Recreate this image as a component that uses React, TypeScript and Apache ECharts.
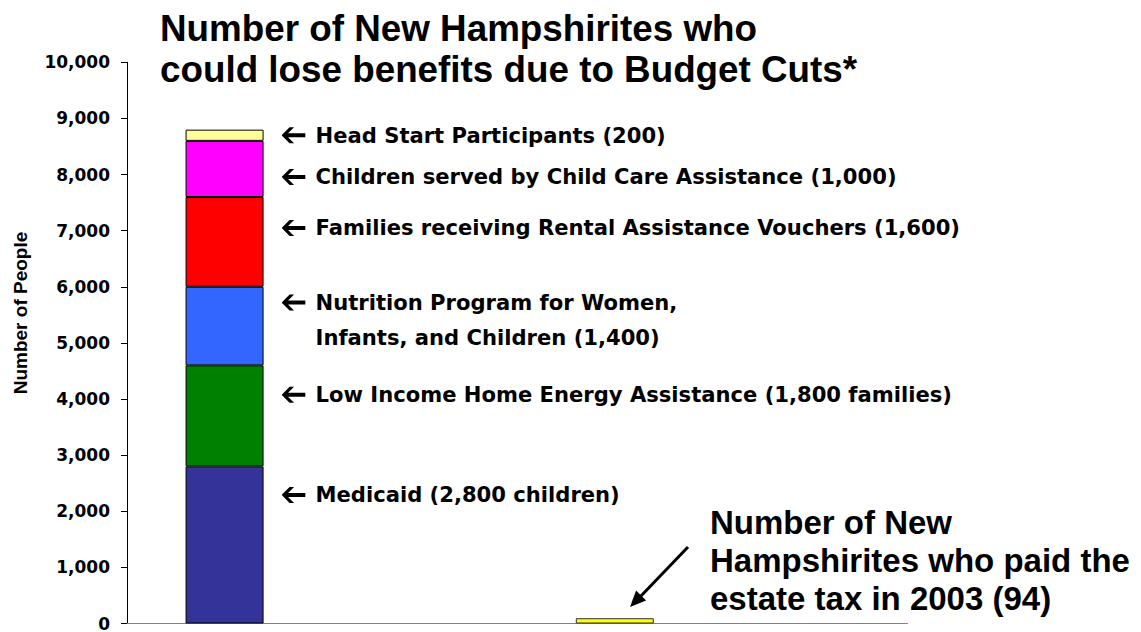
import React, { useEffect, useRef } from "react";
import * as echarts from "echarts";

const categories = ["Budget cuts", "", "Estate tax", ""];
const programNames = [
  "Medicaid",
  "Low Income Home Energy Assistance",
  "Nutrition Program for Women, Infants, and Children",
  "Rental Assistance Vouchers",
  "Child Care Assistance",
  "Head Start",
];
const programValues = [2800, 1800, 1400, 1600, 1000, 200];
const programColors = ["#333399", "#008000", "#3366FF", "#FF0000", "#FF00FF", "#FFFF99"];
const programLabels = [
  ["Medicaid (2,800 children)"],
  ["Low Income Home Energy Assistance (1,800 families)"],
  ["Nutrition Program for Women,", "Infants, and Children (1,400)"],
  ["Families receiving Rental Assistance Vouchers (1,600)"],
  ["Children served by Child Care Assistance (1,000)"],
  ["Head Start Participants (200)"],
];
const labelOffsets = [-50, -21, -6, -14, 8, 0];
const estateTaxPayers = 94;
const estateTaxLabel = ["Number of New", "Hampshirites who paid the", "estate tax in 2003 (94)"];
const yTicks = { min: 0, max: 10000, interval: 1000 };
const titleLines = ["Number of New Hampshirites who", "could lose benefits due to Budget Cuts*"];

const FONT = "'Liberation Sans', Arial, sans-serif";
const WIDE = "'DejaVu Sans', sans-serif";

const arrowSvg =
  "data:image/svg+xml;charset=utf-8," +
  encodeURIComponent(
    '<svg xmlns="http://www.w3.org/2000/svg" width="24" height="18" viewBox="0 0 24 18">' +
      '<polygon points="0,9 8,1 12.5,1 6.5,7 24,7 24,11 6.5,11 12.5,17 8,17" fill="#000"/></svg>'
  );

export default function App() {
  const ref = useRef<HTMLDivElement>(null);
  useEffect(() => {
    if (!ref.current) return;
    const chart = echarts.init(ref.current, null, { renderer: "svg" });
    const programSeries = programValues.map((v, i) => ({
      name: programNames[i],
      type: "bar",
      stack: "total",
      barWidth: 78,
      data: categories.map((_, ci) => (ci === 0 ? v : "-")),
      itemStyle: { color: programColors[i], borderColor: "#000", borderWidth: 1 },
      label: {
        show: true,
        position: "right",
        distance: 18,
        offset: [0, labelOffsets[i]],
        formatter: () =>
          programLabels[i]
            .map((line, li) => (li === 0 ? "{a|}{g|}" : "{sp|}") + "{t|" + line + "}")
            .join("\n"),
        rich: {
          a: { width: 24, height: 18, backgroundColor: { image: arrowSvg } },
          g: { width: 10, lineHeight: 35 },
          sp: { width: 34, lineHeight: 35 },
          t: { fontFamily: WIDE, fontWeight: "bold", fontSize: 21.1, color: "#000", lineHeight: 35 },
        },
      },
    }));
    const estateSeries = {
      name: "Estate tax payers",
      type: "bar",
      stack: "total",
      barWidth: 78,
      data: categories.map((_, ci) => (ci === 2 ? estateTaxPayers : "-")),
      itemStyle: { color: "#FFFF00", borderColor: "#333", borderWidth: 1 },
    };
    chart.setOption({
      animation: false,
      textStyle: { fontFamily: FONT },
      title: {
        text: titleLines.join("\n"),
        left: 155,
        top: 3,
        textStyle: { fontFamily: FONT, fontWeight: "bold", fontSize: 36.8, lineHeight: 41, color: "#000" },
      },
      grid: { left: 127, right: 233.5, top: 62.3, bottom: 7.3, containLabel: false },
      xAxis: {
        type: "category",
        data: categories,
        axisLine: { show: true, lineStyle: { color: "#808080", width: 1 } },
        axisTick: { show: false },
        axisLabel: { show: false },
        splitLine: { show: false },
      },
      yAxis: {
        type: "value",
        min: yTicks.min,
        max: yTicks.max,
        interval: yTicks.interval,
        axisLine: { show: true, lineStyle: { color: "#000", width: 1 } },
        axisTick: { show: true, length: 6, lineStyle: { color: "#000" } },
        splitLine: { show: false },
        axisLabel: {
          margin: 17,
          fontFamily: WIDE,
          fontWeight: "bold",
          fontSize: 17,
          color: "#000",
          formatter: (v: number) => v.toLocaleString("en-US"),
        },
      },
      graphic: [
        {
          type: "text",
          x: 20,
          y: 313,
          rotation: Math.PI / 2,
          style: {
            text: "Number of People",
            fontFamily: FONT,
            fontWeight: "bold",
            fontSize: 19,
            fill: "#000",
            textAlign: "center",
            textVerticalAlign: "middle",
          },
        },
        {
          type: "text",
          left: 710,
          top: 503,
          style: {
            text: estateTaxLabel.join("\n"),
            fontFamily: FONT,
            fontWeight: "bold",
            fontSize: 33,
            lineHeight: 38,
            fill: "#000",
          },
        },
        {
          type: "line",
          shape: { x1: 688, y1: 547, x2: 640, y2: 597 },
          style: { stroke: "#000", lineWidth: 3 },
        },
        {
          type: "polygon",
          shape: { points: [[630, 607], [646.1, 600.4], [636.1, 590.6]] },
          style: { fill: "#000" },
        },
      ],
      series: [...programSeries, estateSeries],
    });
    return () => chart.dispose();
  }, []);
  return (
    <div
      ref={ref}
      style={{ position: "fixed", left: 0, top: 0, width: 1141, height: 632, background: "#fff" }}
    />
  );
}
